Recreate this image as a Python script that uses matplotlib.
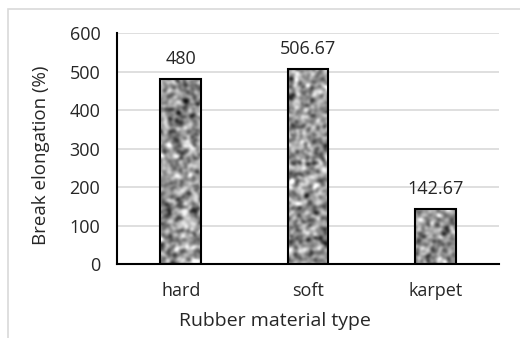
import numpy as np
import matplotlib
matplotlib.use("Agg")
import matplotlib.pyplot as plt
from matplotlib.patches import Rectangle

materials = ["hard", "soft", "karpet"]
elongation = [480, 506.67, 142.67]
value_labels = ["480", "506.67", "142.67"]
yticks = [0, 100, 200, 300, 400, 500, 600]

plt.rcParams["font.family"] = ["Open Sans", "DejaVu Sans"]

fig = plt.figure(figsize=(5.2, 3.38), dpi=100)
ax = fig.add_axes([0.225, 0.219, 0.735, 0.683])

# light frame around the chart area (cut off at right and bottom)
fig.patches.append(Rectangle((8 / 520, -0.1), 1.2, (338 - 9) / 338 + 0.1,
                             transform=fig.transFigure, fill=False,
                             edgecolor="#d9d9d9", linewidth=1.2))

x = np.arange(len(materials))
bars = ax.bar(x, elongation, width=0.32, color="none", edgecolor="black",
              linewidth=1.5, zorder=3)

# granite-like fill texture: smoothed noise (decoration only, not data)
rng = np.random.default_rng(3)
noise = rng.standard_normal((240, 390))
fy = np.fft.fftfreq(240)[:, None]
fx = np.fft.fftfreq(390)[None, :]
lowpass = np.exp(-(fx ** 2 + fy ** 2) / (2 * 0.085 ** 2))
tex = np.real(np.fft.ifft2(np.fft.fft2(noise) * lowpass))
tex = (tex - tex.mean()) / tex.std()
for b in bars:
    im = ax.imshow(tex, cmap="gray", vmin=-4.2, vmax=3.0, aspect="auto",
                   extent=[-0.5, 2.5, 0, 600], zorder=2, interpolation="bilinear")
    im.set_clip_path(b)

for xi, v, lab in zip(x, elongation, value_labels):
    ax.annotate(lab, (xi, v), xytext=(0, 8), textcoords="offset points",
                ha="center", va="bottom", fontsize=13, color="#262626")

ax.set_xlim(-0.5, 2.5)
ax.set_ylim(0, 600)
ax.set_yticks(yticks)
ax.set_xticks(x)
ax.set_xticklabels(materials)
ax.yaxis.grid(True, color="#d9d9d9", linewidth=1.2, zorder=0)
ax.set_axisbelow(True)
ax.tick_params(axis="both", length=0, labelsize=13, labelcolor="#262626")
ax.tick_params(axis="y", pad=12)
ax.tick_params(axis="x", pad=13)
for s in ["top", "right"]:
    ax.spines[s].set_visible(False)
for s in ["left", "bottom"]:
    ax.spines[s].set_linewidth(1.5)
    ax.spines[s].set_color("black")

ax.set_ylabel("Break elongation (%)", fontsize=13.5, color="#262626")
ax.set_xlabel("Rubber material type", fontsize=14, color="#262626")
ax.yaxis.set_label_coords(-0.175, 0.47)
ax.xaxis.set_label_coords(0.414, -0.21)

fig.savefig("out.png", dpi=100)
